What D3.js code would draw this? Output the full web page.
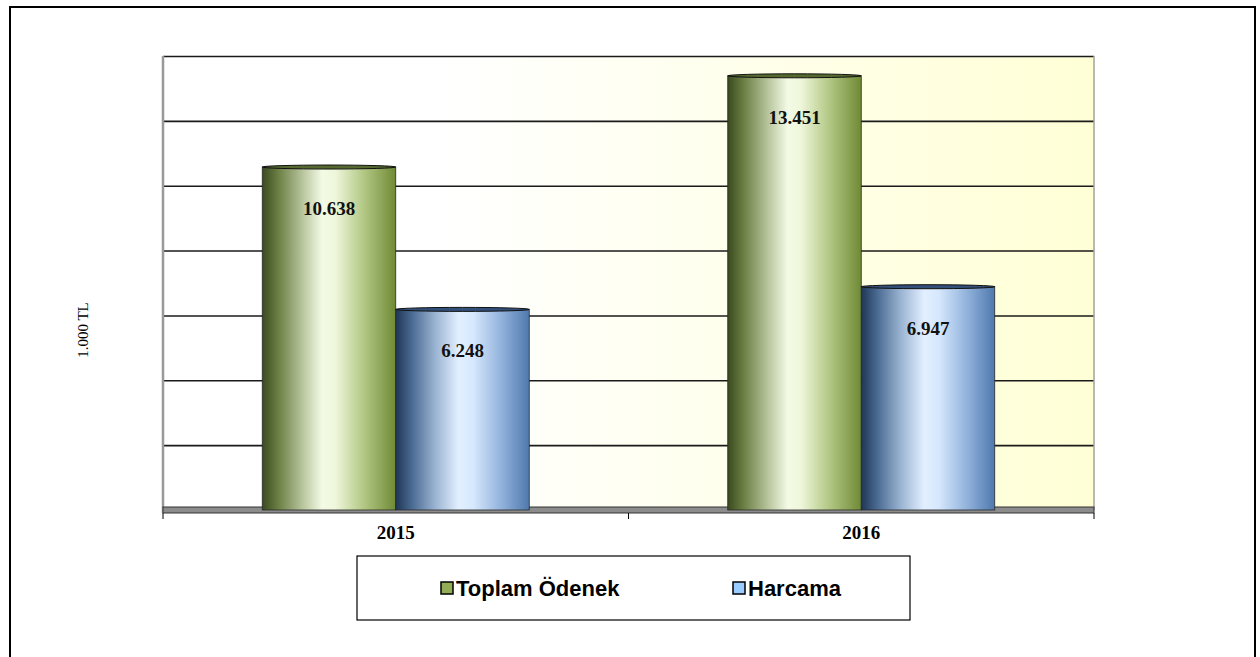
<!DOCTYPE html>
<html>
<head>
<meta charset="utf-8">
<script src="https://cdn.jsdelivr.net/npm/d3@7"></script>
<style>
  body { margin: 0; background: #fff; }
  svg { display: block; }
</style>
</head>
<body>
<div id="chart"></div>
<script>
// data
var years = ["2015", "2016"];
var seriesNames = ["Toplam Ödenek", "Harcama"];
var toplamOdenek = [10638, 13451];
var harcama = [6248, 6947];
var yTicks = [0, 2000, 4000, 6000, 8000, 10000, 12000, 14000];

var svg = d3.select("#chart").append("svg")
    .attr("width", 1260)
    .attr("height", 657);

var margin = {top: 56, right: 166, bottom: 147, left: 163};
var width = 1260 - margin.left - margin.right;
var height = 657 - margin.top - margin.bottom;

var defs = svg.append("defs");

var bg = defs.append("linearGradient").attr("id", "bg").attr("x1", 0).attr("x2", 1).attr("y1", 0).attr("y2", 0);
bg.append("stop").attr("offset", "0.3").attr("stop-color", "#ffffff");
bg.append("stop").attr("offset", "1").attr("stop-color", "#ffffd6");

function cylGrad(id, stops) {
  var g = defs.append("linearGradient").attr("id", id).attr("x1", 0).attr("x2", 1).attr("y1", 0).attr("y2", 0);
  stops.forEach(function(s) {
    g.append("stop").attr("offset", s[0]).attr("stop-color", s[1]);
  });
}
cylGrad("gGreen", [[0, "#3a4a1e"], [0.12, "#6b7f45"], [0.3, "#b7c49c"], [0.45, "#f3fbe6"], [0.55, "#eef6da"], [0.75, "#b5ca88"], [1, "#6f8a35"]]);
cylGrad("gBlue", [[0, "#1f3656"], [0.12, "#4a6a92"], [0.3, "#9cb5d3"], [0.47, "#e2efff"], [0.58, "#d6e8fd"], [0.8, "#8fb0da"], [1, "#4f79ad"]]);

// outer frame
svg.append("path")
    .attr("d", "M10,657 L10,7 L1255,7 L1255,657")
    .attr("fill", "none")
    .attr("stroke", "#000")
    .attr("stroke-width", 2);

var g = svg.append("g").attr("transform", "translate(" + margin.left + "," + margin.top + ")");

var x0 = d3.scaleBand().domain(years).range([0, width]);
var x1 = d3.scaleBand().domain(seriesNames).range([0, 267]);
var y = d3.scaleLinear().domain([0, 14000]).range([height, 0]);

g.append("rect")
    .attr("width", width)
    .attr("height", height)
    .attr("fill", "url(#bg)");

// gridlines
g.append("g")
    .attr("class", "grid")
    .call(d3.axisLeft(y).tickValues(yTicks.slice(1)).tickSize(-width).tickFormat(""))
    .call(function(s) { s.select(".domain").remove(); })
    .selectAll("line")
    .attr("stroke", "#1a1a1a")
    .attr("stroke-width", 1.6);

// walls
g.append("line").attr("x1", width).attr("x2", width).attr("y1", 0).attr("y2", height)
    .attr("stroke", "#a0a0a0").attr("stroke-width", 1.5);
g.append("line").attr("x1", 0).attr("x2", 0).attr("y1", 0).attr("y2", height + 3)
    .attr("stroke", "#999").attr("stroke-width", 2.5);

// floor
g.append("rect")
    .attr("x", 0).attr("y", height - 3)
    .attr("width", width).attr("height", 6)
    .attr("fill", "#8c8c8c")
    .attr("stroke", "#333").attr("stroke-width", 1);

// category axis
var xAxis = g.append("g")
    .attr("transform", "translate(0," + (height + 3) + ")")
    .call(d3.axisBottom(x0).tickSize(0).tickPadding(13));
xAxis.select(".domain").remove();
xAxis.selectAll("text")
    .attr("font-family", "Liberation Serif, Times New Roman, serif")
    .attr("font-weight", "bold")
    .attr("font-size", 19)
    .attr("fill", "#000");
g.append("g").selectAll("line")
    .data([0, width / 2, width])
    .enter().append("line")
    .attr("x1", function(d) { return d; }).attr("x2", function(d) { return d; })
    .attr("y1", height + 3).attr("y2", height + 9)
    .attr("stroke", "#000").attr("stroke-width", 1);

// bars
var rows = years.map(function(yr, i) {
  return {year: yr, values: [
    {name: seriesNames[0], v: toplamOdenek[i], fill: "url(#gGreen)", top: "#55692f"},
    {name: seriesNames[1], v: harcama[i], fill: "url(#gBlue)", top: "#33507a"}
  ]};
});

var groupOffset = (x0.bandwidth() - 267) / 2;

var grp = g.selectAll(".yr")
    .data(rows)
    .enter().append("g")
    .attr("transform", function(d) { return "translate(" + (x0(d.year) + groupOffset) + ",2)"; });

var bar = grp.selectAll(".bar")
    .data(function(d) { return d.values; })
    .enter().append("g");

bar.append("rect")
    .attr("x", function(d) { return x1(d.name); })
    .attr("y", function(d) { return y(d.v); })
    .attr("width", x1.bandwidth())
    .attr("height", function(d) { return height - y(d.v) - 2; })
    .attr("fill", function(d) { return d.fill; })
    .attr("stroke", "#2a2a2a")
    .attr("stroke-width", 0.8);

bar.append("ellipse")
    .attr("cx", function(d) { return x1(d.name) + x1.bandwidth() / 2; })
    .attr("cy", function(d) { return y(d.v); })
    .attr("rx", function() { return x1.bandwidth() / 2; })
    .attr("ry", 2)
    .attr("fill", function(d) { return d.top; })
    .attr("stroke", "#111")
    .attr("stroke-width", 1);

bar.append("text")
    .attr("x", function(d) { return x1(d.name) + x1.bandwidth() / 2; })
    .attr("y", function(d) { return y(d.v) + 48; })
    .attr("text-anchor", "middle")
    .attr("font-family", "Liberation Serif, Times New Roman, serif")
    .attr("font-weight", "bold")
    .attr("font-size", 19)
    .attr("fill", "#111")
    .text(function(d) { return d3.format(",")(d.v).replace(",", "."); });

// y axis title
svg.append("text")
    .attr("text-anchor", "middle")
    .attr("transform", "translate(88,330)rotate(-90)")
    .attr("font-family", "Liberation Serif, Times New Roman, serif")
    .attr("font-size", 15)
    .text("1.000 TL");

// legend
var leg = svg.append("g");
leg.append("rect")
    .attr("x", 357).attr("y", 556)
    .attr("width", 553).attr("height", 64)
    .attr("fill", "#fff")
    .attr("stroke", "#000").attr("stroke-width", 1.2);

var legItems = [
  {name: seriesNames[0], color: "#92ad55", x: 441},
  {name: seriesNames[1], color: "#99ccff", x: 733}
];
var li = leg.selectAll(".li").data(legItems).enter().append("g")
    .attr("transform", function(d) { return "translate(" + d.x + ",588)"; });
li.append("rect")
    .attr("x", 0).attr("y", -6)
    .attr("width", 12).attr("height", 12)
    .attr("fill", function(d) { return d.color; })
    .attr("stroke", "#000").attr("stroke-width", 1.5);
li.append("text")
    .attr("x", 15).attr("y", 8)
    .attr("font-family", "Liberation Sans, Arial, sans-serif")
    .attr("font-weight", "bold")
    .attr("font-size", 22)
    .text(function(d) { return d.name; });
</script>
</body>
</html>
